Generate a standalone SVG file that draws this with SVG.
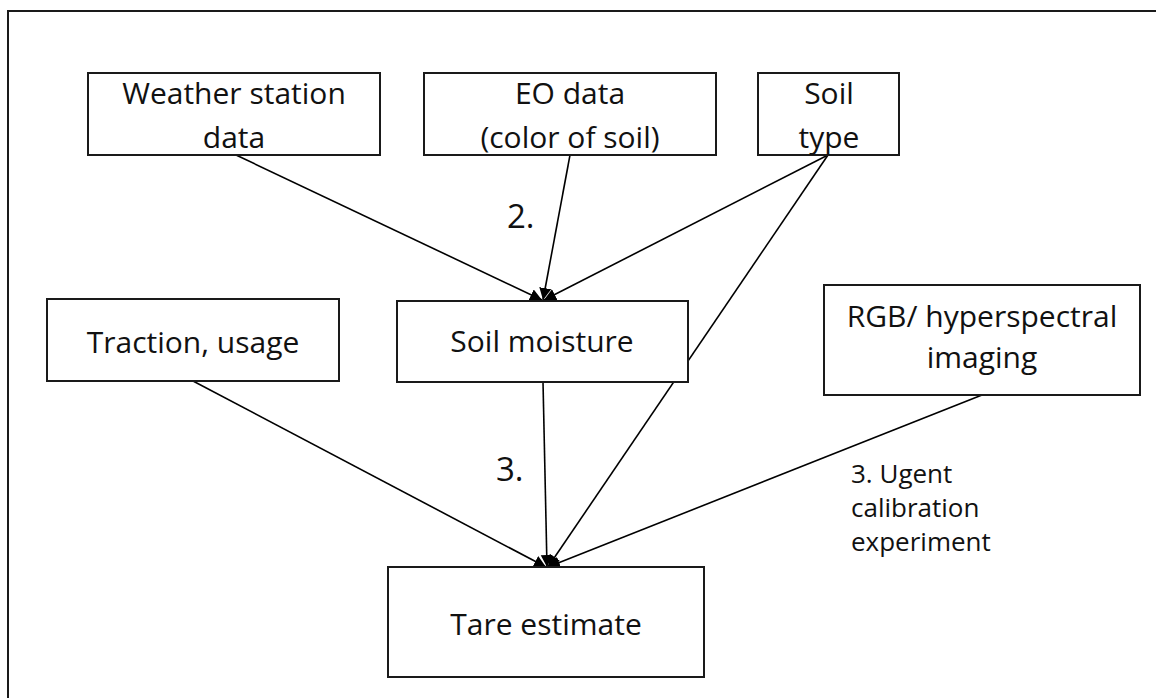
<svg xmlns="http://www.w3.org/2000/svg" width="1156" height="698" viewBox="0 0 1156 698">
<style>
.box{fill:#fff;stroke:#1a1a1a;stroke-width:2}
.t{font-family:"Open Sans","Noto Sans",sans-serif;font-size:30px;fill:#111;text-anchor:middle}
.lbl{font-family:"Open Sans","Noto Sans",sans-serif;font-size:33px;fill:#111}
.sm{font-family:"Open Sans","Noto Sans",sans-serif;font-size:26px;fill:#111}
.c{stroke:#000;stroke-width:1.6;fill:none;marker-end:url(#ah)}
</style>
<defs>
<marker id="ah" markerUnits="userSpaceOnUse" markerWidth="14" markerHeight="14" refX="12" refY="6" orient="auto">
<path d="M0,0 L12,6 L0,12 Z" fill="#000"/>
</marker>
</defs>
<rect width="1156" height="698" fill="#fff"/>
<rect x="8" y="11" width="1170" height="710" fill="none" stroke="#1a1a1a" stroke-width="2"/>
<g id="connectors">
<line class="c" x1="236" y1="155" x2="542" y2="300"/>
<line class="c" x1="570" y1="155" x2="543" y2="300"/>
<line class="c" x1="828" y1="155" x2="544" y2="300"/>
<line class="c" x1="828" y1="155" x2="548" y2="567"/>
<line class="c" x1="193" y1="381" x2="546" y2="567"/>
<line class="c" x1="543" y1="382" x2="547" y2="567"/>
<line class="c" x1="982" y1="395" x2="548" y2="567"/>
<text class="lbl" x="507" y="228">2.</text>
<text class="lbl" x="496" y="481">3.</text>
<text class="sm"><tspan x="851" y="483">3. Ugent</tspan><tspan x="851" y="517">calibration</tspan><tspan x="851" y="551">experiment</tspan></text>
</g>
<g id="weather"><rect class="box" x="88" y="73" width="292" height="82"/><text class="t"><tspan x="234" y="104">Weather station</tspan><tspan x="234" y="148">data</tspan></text></g>
<g id="eo"><rect class="box" x="424" y="73" width="292" height="82"/><text class="t"><tspan x="570" y="104">EO data</tspan><tspan x="570" y="148">(color of soil)</tspan></text></g>
<g id="soiltype"><rect class="box" x="758" y="73" width="141" height="82"/><text class="t"><tspan x="829" y="104">Soil</tspan><tspan x="829" y="148">type</tspan></text></g>
<g id="traction"><rect class="box" x="47" y="299" width="292" height="82"/><text class="t" x="193" y="353">Traction, usage</text></g>
<g id="moisture"><rect class="box" x="397" y="301" width="291" height="81"/><text class="t" x="542" y="352">Soil moisture</text></g>
<g id="rgb"><rect class="box" x="824" y="285" width="316" height="110"/><text class="t"><tspan x="982" y="327">RGB/ hyperspectral</tspan><tspan x="982" y="368">imaging</tspan></text></g>
<g id="tare"><rect class="box" x="388" y="567" width="316" height="110"/><text class="t" x="546" y="635">Tare estimate</text></g>
</svg>
